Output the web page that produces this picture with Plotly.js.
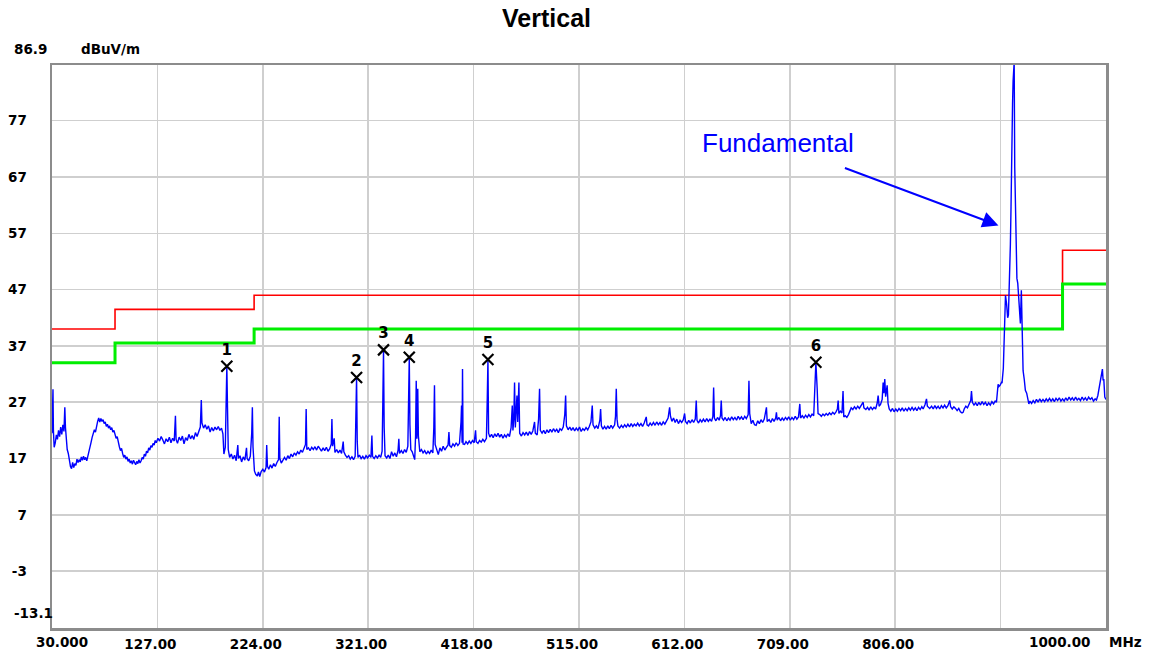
<!DOCTYPE html>
<html><head><meta charset="utf-8">
<script src="https://cdn.plot.ly/plotly-3.0.1.min.js"></script>
<style>html,body{margin:0;padding:0;background:#fff;} #chart{width:1153px;height:655px;}</style>
</head><body><div id="chart"></div>
<script>
// Spectrum trace: [frequency MHz, level dBuV/m]
const spectrum = [
[30.0,21.5],[30.5,27.5],[30.9,29.3],[31.3,22.0],[32.0,19.0],[33.0,19.8],[34.0,21.2],[35.0,20.4],[36.0,22.0],[37.0,20.9],
[38.0,22.6],[39.0,21.3],[40.0,23.0],[41.0,21.8],[41.8,26.1],[42.4,22.5],[43.2,19.8],[44.0,18.6],[45.0,17.9],[46.0,16.2],
[47.0,15.6],[48.0,15.2],[49.0,16.3],[50.0,15.4],[51.0,16.1],[52.0,15.8],[53.0,16.9],[54.0,16.3],[55.0,16.8],[56.0,16.4],
[57.0,17.3],[58.0,16.7],[59.0,17.4],[60.0,16.8],[61.0,17.2],[62.0,16.6],[63.0,17.6],[64.0,18.4],[65.0,19.2],[66.0,19.9],
[67.0,20.8],[68.0,21.3],[69.0,22.1],[70.0,21.7],[71.0,22.9],[72.0,23.6],[73.0,24.2],[74.0,23.5],[75.0,24.1],[76.0,23.6],
[77.0,23.9],[78.0,23.2],[79.0,23.5],[80.0,22.7],[81.0,23.1],[82.0,22.4],[83.0,22.8],[84.0,22.1],[85.0,22.5],[86.0,21.7],
[87.0,22.0],[88.0,21.2],[89.0,20.6],[90.0,20.9],[91.0,19.8],[92.0,19.1],[93.0,18.4],[94.0,18.8],[95.0,17.9],[96.0,17.2],
[97.0,17.6],[98.0,16.9],[99.0,17.3],[100.0,16.5],[101.0,16.9],[102.0,16.2],[103.0,16.6],[104.0,16.0],[105.0,16.7],[106.0,16.3],
[107.0,15.9],[108.0,16.5],[109.0,16.1],[110.0,16.8],[111.0,16.2],[112.0,16.6],[113.0,17.2],[114.0,16.9],[115.0,17.8],[116.0,17.4],
[117.0,18.3],[118.0,18.0],[119.0,18.9],[120.0,18.5],[121.0,19.3],[122.0,19.0],[123.0,19.7],[124.0,19.4],[125.0,20.2],[126.0,19.8],
[127.5,20.6],[129.0,20.1],[130.5,20.9],[132.0,20.3],[133.5,19.6],[135.0,20.5],[136.5,20.0],[138.0,20.8],[139.5,19.8],[141.0,20.6],
[142.5,20.1],[143.6,24.6],[144.2,20.4],[145.5,19.7],[147.0,20.8],[148.5,20.2],[150.0,21.0],[151.5,19.6],[153.0,20.7],[154.5,20.2],
[156.0,21.3],[157.5,20.5],[159.0,21.1],[160.5,20.4],[162.0,21.6],[163.5,20.9],[165.0,21.8],[166.5,22.6],[167.4,27.4],[168.0,23.3],
[169.5,22.4],[171.0,23.0],[172.5,22.2],[174.0,22.8],[175.5,21.7],[177.0,22.5],[178.5,21.9],[180.0,22.6],[181.5,22.1],[183.0,22.7],
[184.5,22.0],[186.0,22.4],[187.3,21.4],[188.2,17.8],[189.5,19.0],[190.2,26.0],[190.9,33.4],[191.5,26.2],[192.2,18.6],[193.5,17.2],
[195.0,17.8],[196.5,16.9],[198.0,17.6],[199.5,16.6],[201.0,19.4],[201.6,17.0],[203.0,17.5],[204.5,16.4],[206.0,17.3],[207.5,16.7],
[209.0,18.9],[209.6,17.0],[211.0,16.6],[212.5,17.4],[213.8,21.5],[214.4,26.1],[215.0,19.0],[216.3,14.8],[217.5,14.2],[219.0,13.9],
[220.0,14.6],[221.2,13.8],[222.5,14.7],[224.0,15.1],[225.5,14.6],[227.0,15.4],[227.6,19.4],[228.3,15.6],[229.5,15.1],[231.0,15.9],
[232.5,15.3],[234.0,16.1],[235.5,15.6],[237.0,16.3],[238.5,16.8],[239.1,24.4],[239.7,17.0],[241.0,16.2],[242.5,16.8],[244.0,17.2],
[245.5,16.7],[247.0,17.5],[248.5,17.0],[250.0,17.8],[251.5,17.3],[253.0,18.0],[254.5,17.6],[256.0,18.2],[257.5,17.8],[259.0,18.5],
[260.5,18.1],[262.0,18.7],[263.3,19.5],[263.9,25.8],[264.5,18.6],[266.0,18.9],[267.5,18.4],[269.0,19.0],[270.5,18.6],[272.0,19.1],
[273.5,18.5],[275.0,19.2],[276.5,18.7],[278.0,18.3],[279.5,18.9],[281.0,18.4],[282.5,19.0],[284.0,18.3],[285.5,18.7],[287.0,19.6],
[287.6,24.0],[288.2,19.2],[289.7,20.6],[290.4,18.1],[292.0,18.6],[293.5,18.0],[295.0,18.5],[296.5,17.9],[298.0,20.0],[298.6,18.2],
[300.0,17.6],[301.5,17.2],[303.0,17.5],[304.5,16.9],[306.0,17.3],[307.5,16.8],[309.0,17.4],[309.7,25.0],[310.3,31.4],[310.9,20.0],
[311.6,17.2],[313.0,17.6],[314.5,17.0],[316.0,17.4],[317.5,16.9],[319.0,17.5],[320.5,17.1],[322.0,17.6],[323.5,17.2],[324.4,21.1],
[325.0,17.4],[326.5,17.0],[328.0,17.5],[329.5,17.1],[331.0,17.6],[332.5,17.2],[333.8,18.3],[334.5,27.6],[335.1,36.3],[335.7,22.5],
[336.5,17.5],[338.0,17.1],[339.5,17.6],[341.0,17.0],[342.5,18.2],[344.0,17.4],[345.5,18.0],[347.0,17.3],[348.5,18.5],[349.2,20.5],
[349.8,17.9],[351.5,18.4],[353.0,17.9],[354.5,18.6],[356.0,18.1],[357.5,19.2],[358.2,26.8],[358.8,35.0],[359.4,23.0],[360.2,18.6],
[361.5,18.2],[363.0,17.4],[363.8,16.8],[364.6,21.0],[365.2,30.8],[365.8,20.5],[366.6,29.4],[367.2,21.0],[368.5,18.2],[370.0,18.6],
[371.5,18.0],[373.0,18.4],[374.5,17.8],[376.0,18.3],[377.5,17.9],[379.0,18.5],[380.5,18.0],[381.4,22.5],[382.0,30.0],[382.6,19.5],
[384.0,18.5],[385.5,17.7],[387.0,18.9],[388.5,18.3],[390.0,19.2],[391.5,18.5],[393.0,19.0],[394.5,19.4],[395.3,21.7],[396.0,19.3],
[397.5,19.0],[399.0,19.6],[400.5,19.2],[402.0,19.8],[403.5,19.3],[405.0,19.7],[406.4,23.5],[406.9,26.4],[407.4,19.8],[407.8,32.9],
[408.3,19.6],[409.7,19.5],[411.0,20.0],[412.5,19.6],[414.0,20.1],[415.5,19.7],[417.0,20.2],[418.5,19.8],[419.8,22.0],[420.4,20.0],
[422.0,19.7],[423.5,20.2],[425.0,19.9],[426.5,20.4],[428.0,20.0],[429.8,20.6],[430.6,27.9],[431.2,34.6],[431.8,21.5],[433.0,20.8],
[434.5,21.3],[436.0,20.7],[437.5,21.4],[439.0,20.9],[440.5,21.5],[442.0,20.8],[443.5,21.3],[445.0,20.6],[446.5,21.2],[448.0,20.8],
[449.5,21.4],[451.0,20.9],[452.5,22.5],[453.6,26.4],[454.2,22.0],[455.0,24.0],[455.7,30.5],[456.4,22.5],[457.9,28.2],[458.6,23.5],
[459.7,30.5],[460.4,21.5],[462.0,21.0],[463.5,21.6],[465.0,21.2],[466.5,21.7],[468.0,21.1],[469.5,21.8],[471.0,21.3],[472.5,21.9],
[474.1,23.5],[474.8,21.5],[476.5,21.2],[477.8,24.0],[478.7,29.4],[479.4,22.0],[481.0,21.5],[482.5,22.0],[484.0,21.4],[485.5,22.1],
[487.0,21.6],[488.5,22.2],[490.0,21.7],[491.5,22.3],[493.0,21.8],[494.5,22.2],[496.0,21.6],[497.5,22.3],[499.0,22.0],[500.5,22.6],
[501.9,24.8],[502.7,28.2],[503.4,22.8],[505.0,22.1],[506.5,22.6],[508.0,22.0],[509.5,22.5],[511.0,21.9],[512.5,22.4],[514.0,22.0],
[515.5,22.6],[517.0,21.8],[518.5,22.3],[520.0,22.0],[521.5,22.5],[523.0,22.1],[524.5,22.7],[526.0,23.5],[527.2,26.4],[527.9,23.0],
[529.5,22.4],[531.0,22.8],[532.5,22.3],[534.2,23.8],[534.9,25.8],[535.6,22.8],[537.0,22.2],[538.5,22.7],[540.0,22.2],[541.5,22.8],
[543.0,22.3],[544.5,22.9],[546.0,22.4],[547.8,23.0],[548.6,24.5],[549.3,29.4],[550.0,24.0],[550.8,22.8],[552.4,22.4],[554.0,22.9],
[555.5,22.5],[557.0,23.0],[558.5,22.6],[560.0,23.1],[561.5,22.6],[563.0,23.2],[564.5,22.7],[566.0,23.1],[567.5,22.8],[569.0,23.3],
[570.5,22.8],[572.0,23.2],[573.5,22.7],[575.0,23.3],[576.9,24.4],[577.6,23.0],[579.0,22.8],[580.5,23.3],[582.0,22.9],[583.5,23.4],
[585.0,22.9],[586.5,23.5],[588.0,23.0],[589.5,23.4],[591.0,22.9],[592.5,23.5],[594.0,23.1],[595.5,23.6],[597.0,24.2],[598.4,26.1],
[599.2,24.5],[600.5,23.6],[602.0,24.2],[603.5,23.4],[605.0,24.0],[606.5,23.2],[608.0,23.8],[609.5,23.4],[611.0,23.9],[612.2,25.0],
[613.0,23.6],[614.5,23.2],[616.0,23.8],[617.5,23.3],[619.0,23.9],[620.5,23.4],[622.0,24.0],[622.9,27.3],[623.6,23.8],[625.0,23.3],
[626.5,23.9],[628.0,23.5],[629.5,24.0],[631.0,23.5],[632.5,24.1],[634.0,23.6],[635.5,24.0],[637.0,23.6],[638.2,24.5],[638.9,29.6],
[639.6,24.2],[641.0,23.7],[642.5,24.3],[644.0,23.8],[645.2,24.6],[645.9,27.3],[646.6,24.2],[648.0,23.8],[649.5,24.3],[651.0,23.7],
[652.5,24.2],[654.0,23.8],[655.5,24.4],[657.0,23.9],[658.5,24.3],[660.0,23.8],[661.5,24.5],[663.0,24.0],[664.5,24.4],[666.0,23.9],
[667.5,24.5],[669.0,24.1],[670.7,24.8],[671.4,30.8],[672.1,25.0],[673.5,23.2],[675.0,23.8],[676.5,23.0],[678.0,22.9],[679.5,23.7],
[681.0,23.2],[682.5,23.9],[684.0,23.4],[685.5,24.0],[687.5,26.1],[688.2,23.6],[690.0,23.9],[691.5,23.4],[693.0,24.1],[694.5,23.6],
[696.0,24.2],[696.7,25.2],[697.4,23.8],[699.0,24.3],[700.5,23.7],[702.0,24.2],[703.5,23.8],[705.0,24.3],[706.5,23.9],[708.0,24.4],
[709.5,23.8],[711.0,24.3],[712.5,23.9],[714.0,24.5],[715.5,24.0],[717.0,24.4],[718.2,26.7],[718.9,24.2],[720.5,24.6],[722.0,24.2],
[723.5,24.7],[725.0,24.3],[726.5,24.8],[728.0,24.4],[729.5,24.9],[731.0,24.6],[732.0,29.4],[733.0,34.1],[734.2,29.4],[735.0,25.0],
[736.6,24.8],[738.0,24.5],[739.5,24.9],[741.0,24.6],[742.5,25.0],[744.0,24.7],[745.5,25.1],[747.0,24.8],[748.5,25.2],[750.0,24.9],
[751.5,25.3],[752.8,25.8],[753.5,27.3],[754.2,25.0],[755.5,25.4],[757.0,25.1],[758.0,29.0],[758.7,24.4],[760.0,24.6],[761.5,24.3],
[763.0,24.8],[764.2,25.6],[765.5,26.0],[767.0,25.7],[768.5,26.2],[770.0,25.8],[771.5,26.3],[773.0,25.9],[774.5,26.4],[776.5,27.0],
[777.2,26.0],[779.0,25.7],[780.5,26.1],[782.0,25.6],[783.5,26.2],[785.0,25.7],[786.5,26.1],[788.0,25.8],[789.5,26.9],[790.3,28.2],
[791.2,26.3],[792.5,26.6],[794.0,27.5],[794.9,30.5],[795.6,28.6],[796.4,31.1],[797.2,28.0],[798.6,30.0],[799.4,26.8],[800.5,25.8],
[802.0,25.4],[803.5,25.9],[805.0,25.3],[806.5,25.8],[808.0,25.4],[809.5,25.9],[811.0,25.5],[812.5,26.0],[814.0,25.4],[815.5,25.9],
[817.0,25.5],[818.5,26.0],[820.0,25.6],[821.5,26.1],[823.0,25.6],[824.5,26.0],[826.0,25.5],[827.5,26.1],[829.0,25.7],[830.5,26.2],
[831.7,25.8],[833.5,26.6],[834.8,27.6],[835.6,26.3],[837.8,25.9],[839.5,26.3],[841.0,25.8],[842.5,26.4],[844.0,25.9],[845.5,26.3],
[847.0,25.8],[848.5,26.4],[850.0,26.0],[851.5,26.5],[853.0,26.0],[854.5,26.4],[856.2,27.3],[857.0,26.2],[858.5,25.8],[860.0,26.2],
[861.5,25.9],[863.0,25.5],[864.5,25.9],[866.0,25.3],[867.5,25.1],[868.5,25.2],[869.5,25.8],[871.0,26.3],[872.5,26.0],[874.0,26.7],
[875.5,27.3],[876.2,29.0],[877.0,27.0],[878.5,26.5],[880.0,26.9],[881.5,26.4],[883.0,27.0],[884.5,26.5],[886.0,27.1],[887.5,26.6],
[889.0,27.0],[890.5,26.4],[892.0,26.9],[893.5,26.5],[895.0,27.1],[896.5,26.7],[898.0,27.2],[899.2,27.0],[900.0,28.5],[900.7,30.2],
[901.5,29.8],[902.5,30.0],[903.8,30.5],[904.3,30.4],[905.5,33.0],[906.3,38.5],[907.0,45.7],[907.5,46.0],[908.5,44.5],[909.5,42.0],
[910.2,42.5],[911.0,47.5],[911.4,49.2],[912.0,55.0],[912.6,61.7],[913.0,68.0],[913.5,79.5],[914.0,80.0],[914.5,84.0],[915.0,87.5],
[915.5,87.5],[916.0,68.8],[916.8,58.0],[917.3,51.0],[918.0,49.0],[918.8,48.1],[919.5,46.0],[920.3,43.3],[921.2,41.0],[922.1,46.9],
[922.6,40.0],[923.2,35.0],[923.7,32.6],[924.8,31.0],[925.8,29.1],[927.0,28.6],[928.0,27.3],[929.0,26.7],[930.0,27.2],[931.5,26.8],
[933.0,27.3],[934.5,26.9],[936.0,27.5],[937.5,27.0],[939.0,27.6],[940.5,27.1],[942.0,27.5],[943.5,27.1],[945.0,27.6],[946.5,27.2],
[948.0,27.7],[949.5,27.2],[951.0,27.6],[952.5,27.1],[954.0,27.7],[955.5,27.3],[957.0,27.8],[958.5,27.2],[960.0,27.6],[961.5,27.2],
[963.0,27.8],[964.5,27.3],[966.0,27.9],[967.5,27.4],[969.0,27.8],[970.5,27.3],[972.0,27.9],[973.5,27.4],[975.0,27.7],[976.5,27.3],
[978.0,27.9],[979.5,27.4],[981.0,27.8],[982.5,27.3],[984.0,27.9],[985.5,27.5],[987.0,27.8],[988.5,27.2],[990.0,27.6],[991.2,27.4],
[992.5,28.2],[993.5,29.5],[994.3,30.0],[995.5,31.5],[996.7,32.9],[997.3,31.0],[998.0,31.0],[998.9,27.9],[1000.0,27.5]
];
const specFreq = spectrum.map(p => p[0]);
const specLevel = spectrum.map(p => p[1]);

// Limit lines (step)
const limitFreq = [30, 88, 216, 960, 1000];
const limitRed = [40, 43.5, 46, 54, 54];
const limitGreen = [34, 37.5, 40, 48, 48];

// Peak markers
const markerLabel = ['1', '2', '3', '4', '5', '6'];
const markerFreq = [190.9, 310.3, 335.1, 358.8, 431.2, 733.0];
const markerLevel = [33.4, 31.4, 36.3, 35.0, 34.6, 34.1];

// Axis ticks
const xTickVals = [127, 224, 321, 418, 515, 612, 709, 806, 903];
const xTickText = ['127.00', '224.00', '321.00', '418.00', '515.00', '612.00', '709.00', '806.00', ''];
const yTickVals = [77, 67, 57, 47, 37, 27, 17, 7, -3];
const yTickText = ['77', '67', '57', '47', '37', '27', '17', '7', '-3'];

const tickFont = {family: 'DejaVu Sans', size: 13.5, color: '#000', weight: 'bold'};

const traces = [
  {x: limitFreq, y: limitRed, mode: 'lines', line: {color: '#ff0000', width: 1.6, shape: 'hv'}, hoverinfo: 'skip'},
  {x: limitFreq, y: limitGreen, mode: 'lines', line: {color: '#00ee00', width: 3, shape: 'hv'}, hoverinfo: 'skip'},
  {x: specFreq, y: specLevel, mode: 'lines', line: {color: '#0000ff', width: 1.4}, hoverinfo: 'skip'},
  {x: markerFreq, y: markerLevel, mode: 'markers+text', text: markerLabel, textposition: 'top center',
   textfont: {family: 'DejaVu Sans', size: 15, color: '#000', weight: 'bold'},
   marker: {symbol: 'x-thin', size: 11, color: '#000', line: {color: '#000', width: 2.2}}, hoverinfo: 'skip'}
];

const layout = {
  width: 1153, height: 655,
  margin: {l: 52, r: 47, t: 65, b: 27},
  paper_bgcolor: '#fff', plot_bgcolor: '#fff',
  showlegend: false,
  title: {text: 'Vertical', font: {family: 'Liberation Sans', size: 25, color: '#000', weight: 'bold'}, x: 0.474, xanchor: 'center', y: 0.972, yanchor: 'middle'},
  xaxis: {range: [30, 1000], tickvals: xTickVals, ticktext: xTickText, tickfont: tickFont,
    showgrid: true, gridcolor: '#cfcfcf', gridwidth: 1.5, zeroline: false,
    showline: true, mirror: true, linecolor: '#8c8c8c', linewidth: 2.5, ticks: '', ticklabelshift: -7, ticklabelstandoff: 2},
  yaxis: {range: [-13.1, 86.9], tickvals: yTickVals, ticktext: yTickText, tickfont: tickFont,
    showgrid: true, gridcolor: '#cfcfcf', gridwidth: 1.5, zeroline: false,
    showline: true, mirror: true, linecolor: '#8c8c8c', linewidth: 2.5, ticks: '', ticklabelstandoff: 20},
  annotations: [
    {xref: 'paper', yref: 'paper', x: -0.038, y: 1.0, yshift: 16, xanchor: 'left', yanchor: 'middle', showarrow: false, text: '86.9', font: tickFont},
    {xref: 'paper', yref: 'paper', x: 0.026, y: 1.0, yshift: 16, xanchor: 'left', yanchor: 'middle', showarrow: false, text: 'dBuV/m', font: tickFont},
    {xref: 'paper', yref: 'paper', x: -0.038, y: 0.0, yshift: 15, xanchor: 'left', yanchor: 'middle', showarrow: false, text: '-13.1', font: tickFont},
    {xref: 'x', yref: 'paper', x: 30, xshift: 10, y: 0, yshift: -14, xanchor: 'center', yanchor: 'middle', showarrow: false, text: '30.000', font: tickFont},
    {xref: 'x', yref: 'paper', x: 1000, xshift: -46, y: 0, yshift: -14, xanchor: 'center', yanchor: 'middle', showarrow: false, text: '1000.00', font: tickFont},
    {xref: 'x', yref: 'paper', x: 1000, xshift: 1, y: 0, yshift: -14, xanchor: 'left', yanchor: 'middle', showarrow: false, text: 'MHz', font: tickFont},
    {xref: 'paper', yref: 'paper', x: 0.689, y: 0.861, xanchor: 'center', yanchor: 'middle', showarrow: false, text: 'Fundamental',
     font: {family: 'Liberation Sans', size: 26, color: '#0000ff'}},
    {xref: 'x', yref: 'y', x: 901, y: 58.4, ax: -155, ay: -58, showarrow: true, text: '', arrowcolor: '#0000ff', arrowwidth: 2, arrowhead: 2, arrowsize: 1.6, standoff: 0}
  ]
};

Plotly.newPlot('chart', traces, layout, {staticPlot: true, displayModeBar: false});
</script></body></html>
